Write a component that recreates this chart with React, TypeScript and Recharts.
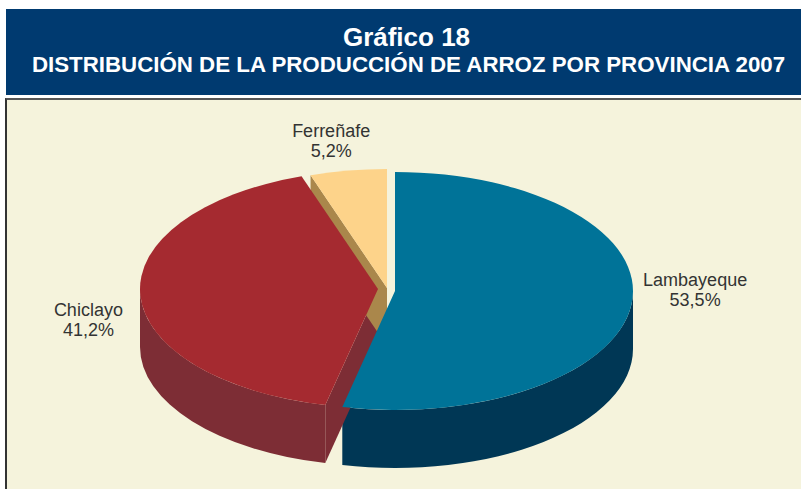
import { PieChart, Pie } from 'recharts'

// rice production share by province, 2007
const provinces = ['Lambayeque', 'Chiclayo', 'Ferreñafe']
const shares = [53.5, 41.2, 5.2]
const shareLabels = ['53,5%', '41,2%', '5,2%']

const topColors = ['#007398', '#a52a30', '#fdd38a']
const sideColors = ['#003755', '#7d2d35', '#aa874b']
// exploded slice offsets and label nudges (px)
const explode = [[0, 0], [-17, -2], [-8, -3]]
const labelNudge = [[2, -17], [10, 23], [-7, -1]]

const data = provinces.map((name, i) => ({ name, value: shares[i] }))

const FONT = 'Arial, "Liberation Sans", sans-serif'
const TILT = 0.5
const DEPTH = 58
const LABEL_RX = 300
const LABEL_RY = 148
const RAD = Math.PI / 180

function geom(props: any) {
  const i = Math.max(0, provinces.indexOf(props.name ?? props.payload?.name))
  const [ox, oy] = explode[i]
  const cx = props.cx + ox
  const cy = props.cy + oy
  const rx = props.outerRadius
  const ry = rx * TILT
  const hi = Math.max(props.startAngle, props.endAngle)
  const lo = Math.min(props.startAngle, props.endAngle)
  const pt = (a: number) => [cx + rx * Math.cos(a * RAD), cy - ry * Math.sin(a * RAD)]
  return { i, cx, cy, rx, ry, hi, lo, pt }
}

function TopFace(props: any) {
  const { i, cx, cy, rx, ry, hi, lo, pt } = geom(props)
  const [x1, y1] = pt(hi)
  const [x2, y2] = pt(lo)
  const large = hi - lo > 180 ? 1 : 0
  const d = `M${cx},${cy} L${x1},${y1} A${rx},${ry} 0 ${large} 1 ${x2},${y2} Z`
  return <path d={d} fill={topColors[i]} stroke="none" />
}

function SideFaces(props: any) {
  const { i, cx, cy, rx, ry, hi, lo, pt } = geom(props)
  const walls: string[] = []
  const radial = (a: number) => {
    const [x, y] = pt(a)
    return `M${cx},${cy} L${x},${y} L${x},${y + DEPTH} L${cx},${cy + DEPTH} Z`
  }
  if (Math.cos(hi * RAD) < -1e-3) walls.push(radial(hi))
  if (Math.cos(lo * RAD) > 1e-3) walls.push(radial(lo))
  // outer wall, only the part facing the viewer
  for (let k = -2; k <= 1; k++) {
    const a = Math.max(lo, 180 + 360 * k)
    const b = Math.min(hi, 360 + 360 * k)
    if (b - a > 0.01) {
      const [xa, ya] = pt(a)
      const [xb, yb] = pt(b)
      walls.push(
        `M${xb},${yb} A${rx},${ry} 0 0 1 ${xa},${ya} L${xa},${ya + DEPTH} A${rx},${ry} 0 0 0 ${xb},${yb + DEPTH} Z`
      )
    }
  }
  return (
    <g>
      {walls.map((d, j) => (
        <path key={j} d={d} fill={sideColors[i]} stroke="none" />
      ))}
    </g>
  )
}

function renderLabel(props: any) {
  const i = Math.max(0, provinces.indexOf(props.name ?? props.payload?.name))
  const [ox, oy] = explode[i]
  const [nx, ny] = labelNudge[i]
  const a = props.midAngle * RAD
  const x = props.cx + ox + Math.cos(a) * LABEL_RX + nx
  const y = props.cy + oy - Math.sin(a) * LABEL_RY + ny
  return (
    <text x={x} y={y} textAnchor="middle" fill="#333333" fontSize={18} fontFamily={FONT}>
      <tspan x={x} dy={-4}>{provinces[i]}</tspan>
      <tspan x={x} dy={20}>{shareLabels[i]}</tspan>
    </text>
  )
}

export default function App() {
  return (
    <div style={{ position: 'absolute', left: 0, top: 0, width: 801, height: 489, background: '#fff', overflow: 'hidden', fontFamily: FONT }}>
      <div style={{ position: 'absolute', left: 6, top: 9, width: 795, height: 86, background: '#003a70', color: '#fff' }}>
        <div style={{ position: 'absolute', left: 6, right: 0, top: 15, textAlign: 'center', fontSize: 26, lineHeight: '26px', fontWeight: 'bold' }}>
          Gráfico 18
        </div>
        <div style={{ position: 'absolute', left: 10, right: 0, top: 45, textAlign: 'center', fontSize: 22.3, lineHeight: '22px', fontWeight: 'bold', whiteSpace: 'nowrap' }}>
          DISTRIBUCIÓN DE LA PRODUCCIÓN DE ARROZ POR PROVINCIA 2007
        </div>
      </div>
      <div style={{ position: 'absolute', left: 5, top: 98, right: 0, bottom: 0, background: '#f5f3dc', borderTop: '2px solid #555', borderLeft: '2px solid #333' }} />
      <div style={{ position: 'absolute', left: 0, top: 0 }}>
        <PieChart width={801} height={489} margin={{ top: 0, right: 0, bottom: 0, left: 0 }}>
          <Pie
            data={data}
            dataKey="value"
            nameKey="name"
            cx={395}
            cy={291}
            outerRadius={238}
            startAngle={90}
            endAngle={-270}
            shape={SideFaces}
            inactiveShape={SideFaces}
            activeShape={SideFaces}
            label={false}
            labelLine={false}
            isAnimationActive={false}
          />
          <Pie
            data={data}
            dataKey="value"
            nameKey="name"
            cx={395}
            cy={291}
            outerRadius={238}
            startAngle={90}
            endAngle={-270}
            shape={TopFace}
            inactiveShape={TopFace}
            activeShape={TopFace}
            label={renderLabel}
            labelLine={false}
            isAnimationActive={false}
          />
        </PieChart>
      </div>
    </div>
  )
}
